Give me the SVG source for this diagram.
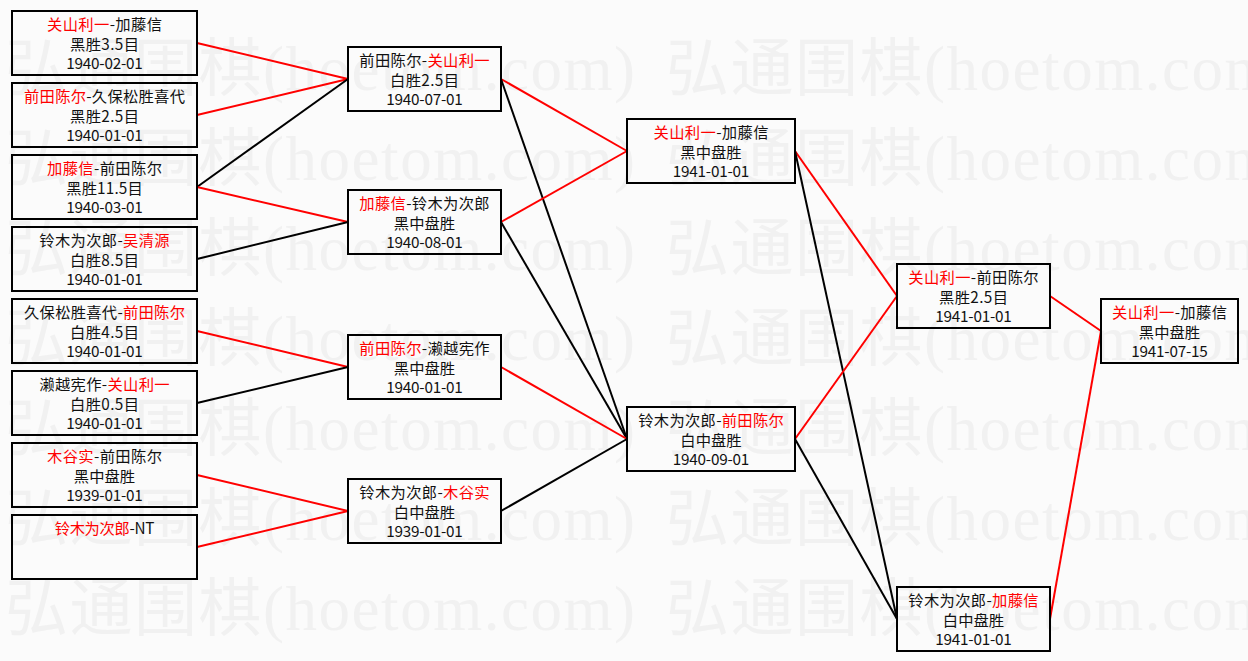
<svg xmlns="http://www.w3.org/2000/svg" width="1248" height="661" viewBox="0 0 1248 661">
<style>
.bg{fill:#fbfbfb}
.wm{font-family:"Liberation Serif","Noto Sans CJK SC",serif;font-size:63px;fill:#f1f1f1}
.box{fill:none;stroke:#000;stroke-width:2}
.t{font-family:"Noto Sans CJK SC","Noto Sans CJK JP",sans-serif;font-size:15.3px;fill:#111;text-anchor:middle}
.r{fill:#f00}
.cr{stroke:#f00;stroke-width:2;fill:none}
.cb{stroke:#000;stroke-width:2;fill:none}
</style>
<rect class="bg" x="0" y="0" width="1248" height="661"/>
<g id="watermark">
<text class="wm" x="5" y="90" textLength="630">弘通围棋(hoetom.com)</text><text class="wm" x="666" y="90" textLength="630">弘通围棋(hoetom.com)</text>
<text class="wm" x="5" y="180" textLength="630">弘通围棋(hoetom.com)</text><text class="wm" x="666" y="180" textLength="630">弘通围棋(hoetom.com)</text>
<text class="wm" x="5" y="270" textLength="630">弘通围棋(hoetom.com)</text><text class="wm" x="666" y="270" textLength="630">弘通围棋(hoetom.com)</text>
<text class="wm" x="5" y="360" textLength="630">弘通围棋(hoetom.com)</text><text class="wm" x="666" y="360" textLength="630">弘通围棋(hoetom.com)</text>
<text class="wm" x="5" y="450" textLength="630">弘通围棋(hoetom.com)</text><text class="wm" x="666" y="450" textLength="630">弘通围棋(hoetom.com)</text>
<text class="wm" x="5" y="540" textLength="630">弘通围棋(hoetom.com)</text><text class="wm" x="666" y="540" textLength="630">弘通围棋(hoetom.com)</text>
<text class="wm" x="5" y="630" textLength="630">弘通围棋(hoetom.com)</text><text class="wm" x="666" y="630" textLength="630">弘通围棋(hoetom.com)</text>
</g>
<g id="connectors">
<line class="cr" x1="197" y1="43" x2="348" y2="79"/>
<line class="cr" x1="197" y1="115" x2="348" y2="79"/>
<line class="cb" x1="197" y1="187" x2="348" y2="79"/>
<line class="cr" x1="197" y1="187" x2="348" y2="222"/>
<line class="cb" x1="197" y1="259" x2="348" y2="222"/>
<line class="cr" x1="197" y1="331" x2="348" y2="367"/>
<line class="cb" x1="197" y1="403" x2="348" y2="367"/>
<line class="cr" x1="197" y1="475" x2="348" y2="511"/>
<line class="cr" x1="197" y1="547" x2="348" y2="511"/>
<line class="cr" x1="501" y1="79" x2="627" y2="151"/>
<line class="cb" x1="501" y1="79" x2="627" y2="439"/>
<line class="cr" x1="501" y1="222" x2="627" y2="151"/>
<line class="cb" x1="501" y1="222" x2="627" y2="439"/>
<line class="cr" x1="501" y1="367" x2="627" y2="439"/>
<line class="cb" x1="501" y1="511" x2="627" y2="439"/>
<line class="cr" x1="795" y1="151" x2="897" y2="296"/>
<line class="cb" x1="795" y1="151" x2="897" y2="619"/>
<line class="cr" x1="795" y1="439" x2="897" y2="296"/>
<line class="cb" x1="795" y1="439" x2="897" y2="619"/>
<line class="cr" x1="1050" y1="296" x2="1101" y2="331"/>
<line class="cr" x1="1050" y1="619" x2="1101" y2="331"/>
</g>
<g id="n1-1"><rect class="box" x="12" y="11" width="185" height="64"/><text class="t" x="104.5" y="30" textLength="115"><tspan class="r">关山利一</tspan>-加藤信</text><text class="t" x="104.5" y="49.5" textLength="69">黑胜3.5目</text><text class="t" x="104.5" y="68.5" textLength="76.7">1940-02-01</text></g>
<g id="n1-2"><rect class="box" x="12" y="83" width="185" height="64"/><text class="t" x="104.5" y="102" textLength="161"><tspan class="r">前田陈尔</tspan>-久保松胜喜代</text><text class="t" x="104.5" y="121.5" textLength="69">黑胜2.5目</text><text class="t" x="104.5" y="140.5" textLength="76.7">1940-01-01</text></g>
<g id="n1-3"><rect class="box" x="12" y="155" width="185" height="64"/><text class="t" x="104.5" y="174" textLength="115"><tspan class="r">加藤信</tspan>-前田陈尔</text><text class="t" x="104.5" y="193.5" textLength="76.7">黑胜11.5目</text><text class="t" x="104.5" y="212.5" textLength="76.7">1940-03-01</text></g>
<g id="n1-4"><rect class="box" x="12" y="227" width="185" height="64"/><text class="t" x="104.5" y="246" textLength="130.3">铃木为次郎-<tspan class="r">吴清源</tspan></text><text class="t" x="104.5" y="265.5" textLength="69">白胜8.5目</text><text class="t" x="104.5" y="284.5" textLength="76.7">1940-01-01</text></g>
<g id="n1-5"><rect class="box" x="12" y="299" width="185" height="64"/><text class="t" x="104.5" y="318" textLength="161">久保松胜喜代-<tspan class="r">前田陈尔</tspan></text><text class="t" x="104.5" y="337.5" textLength="69">白胜4.5目</text><text class="t" x="104.5" y="356.5" textLength="76.7">1940-01-01</text></g>
<g id="n1-6"><rect class="box" x="12" y="371" width="185" height="64"/><text class="t" x="104.5" y="390" textLength="130.3">濑越宪作-<tspan class="r">关山利一</tspan></text><text class="t" x="104.5" y="409.5" textLength="69">白胜0.5目</text><text class="t" x="104.5" y="428.5" textLength="76.7">1940-01-01</text></g>
<g id="n1-7"><rect class="box" x="12" y="443" width="185" height="64"/><text class="t" x="104.5" y="462" textLength="115"><tspan class="r">木谷实</tspan>-前田陈尔</text><text class="t" x="104.5" y="481.5" textLength="61.3">黑中盘胜</text><text class="t" x="104.5" y="500.5" textLength="76.7">1939-01-01</text></g>
<g id="n1-8"><rect class="box" x="12" y="515" width="185" height="64"/><text class="t" x="104.5" y="534" textLength="99.6"><tspan class="r">铃木为次郎</tspan>-NT</text></g>
<g id="n2-1"><rect class="box" x="348" y="47" width="153" height="64"/><text class="t" x="424.5" y="66" textLength="130.3">前田陈尔-<tspan class="r">关山利一</tspan></text><text class="t" x="424.5" y="85.5" textLength="69">白胜2.5目</text><text class="t" x="424.5" y="104.5" textLength="76.7">1940-07-01</text></g>
<g id="n2-2"><rect class="box" x="348" y="190" width="153" height="64"/><text class="t" x="424.5" y="209" textLength="130.3"><tspan class="r">加藤信</tspan>-铃木为次郎</text><text class="t" x="424.5" y="228.5" textLength="61.3">黑中盘胜</text><text class="t" x="424.5" y="247.5" textLength="76.7">1940-08-01</text></g>
<g id="n2-3"><rect class="box" x="348" y="335" width="153" height="64"/><text class="t" x="424.5" y="354" textLength="130.3"><tspan class="r">前田陈尔</tspan>-濑越宪作</text><text class="t" x="424.5" y="373.5" textLength="61.3">黑中盘胜</text><text class="t" x="424.5" y="392.5" textLength="76.7">1940-01-01</text></g>
<g id="n2-4"><rect class="box" x="348" y="479" width="153" height="64"/><text class="t" x="424.5" y="498" textLength="130.3">铃木为次郎-<tspan class="r">木谷实</tspan></text><text class="t" x="424.5" y="517.5" textLength="61.3">白中盘胜</text><text class="t" x="424.5" y="536.5" textLength="76.7">1939-01-01</text></g>
<g id="n3-1"><rect class="box" x="627" y="119" width="168" height="64"/><text class="t" x="711" y="138" textLength="115"><tspan class="r">关山利一</tspan>-加藤信</text><text class="t" x="711" y="157.5" textLength="61.3">黑中盘胜</text><text class="t" x="711" y="176.5" textLength="76.7">1941-01-01</text></g>
<g id="n3-2"><rect class="box" x="627" y="407" width="168" height="64"/><text class="t" x="711" y="426" textLength="145.6">铃木为次郎-<tspan class="r">前田陈尔</tspan></text><text class="t" x="711" y="445.5" textLength="61.3">白中盘胜</text><text class="t" x="711" y="464.5" textLength="76.7">1940-09-01</text></g>
<g id="n4-1"><rect class="box" x="897" y="264" width="153" height="64"/><text class="t" x="973.5" y="283" textLength="130.3"><tspan class="r">关山利一</tspan>-前田陈尔</text><text class="t" x="973.5" y="302.5" textLength="69">黑胜2.5目</text><text class="t" x="973.5" y="321.5" textLength="76.7">1941-01-01</text></g>
<g id="n4-2"><rect class="box" x="897" y="587" width="153" height="64"/><text class="t" x="973.5" y="606" textLength="130.3">铃木为次郎-<tspan class="r">加藤信</tspan></text><text class="t" x="973.5" y="625.5" textLength="61.3">白中盘胜</text><text class="t" x="973.5" y="644.5" textLength="76.7">1941-01-01</text></g>
<g id="n5-1"><rect class="box" x="1101" y="299" width="137" height="64"/><text class="t" x="1169.5" y="318" textLength="115"><tspan class="r">关山利一</tspan>-加藤信</text><text class="t" x="1169.5" y="337.5" textLength="61.3">黑中盘胜</text><text class="t" x="1169.5" y="356.5" textLength="76.7">1941-07-15</text></g>
</svg>
